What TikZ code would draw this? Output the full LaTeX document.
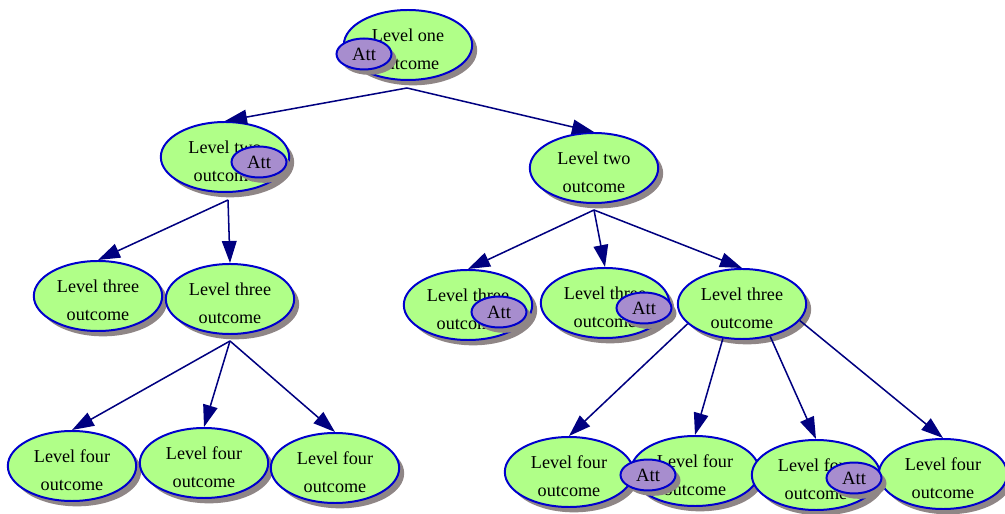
\documentclass[tikz,border=0pt]{standalone}
\usepackage{fontspec}
\setmainfont{Liberation Serif}
\usetikzlibrary{shapes.geometric,arrows.meta,shadows}
\definecolor{leaf}{RGB}{176,255,136}
\definecolor{attfill}{RGB}{167,141,206}
\definecolor{rim}{RGB}{0,0,205}
\definecolor{wire}{RGB}{0,0,128}
\definecolor{shade}{RGB}{143,134,134}
% two-line outcome label, with a tall strut that sets the lines a little low
\newcommand\twolines[2]{\rule{0pt}{18pt}#1\\#2}
\tikzset{
  outcome/.style={ellipse, draw=rim, fill=leaf, line width=1.7pt,
    minimum width=3.85cm, minimum height=2.1cm, inner sep=0pt, align=center,
    font=\fontsize{15.5}{23.5}\selectfont,
    drop shadow={shadow xshift=0.15cm, shadow yshift=-0.16cm, fill=shade, opacity=1}},
  att/.style={ellipse, draw=rim, fill=attfill, line width=1.7pt,
    minimum width=1.65cm, minimum height=0.93cm, inner sep=0pt,
    font=\fontsize{16}{18}\selectfont,
    drop shadow={shadow xshift=0.15cm, shadow yshift=-0.16cm, fill=shade, opacity=1}},
  link/.style={draw=wire, line width=1.3pt,
    -{Triangle[length=0.66cm, width=0.44cm, fill=wire]}},
}
\begin{document}
\begin{tikzpicture}[x=0.03cm, y=-0.03cm]
\useasboundingbox (0,0) rectangle (1005,514);

% outcome tree
\node[outcome] (one)  at (408,45)  {\twolines{Level one}{outcome}};
\node[outcome] (twoA) at (225,157) {\twolines{Level two}{outcome}};
\node[outcome] (twoB) at (594,168) {\twolines{Level two}{outcome}};
\node[outcome] (thrA) at (98,296)  {\twolines{Level three}{outcome}};
\node[outcome] (thrB) at (230,299) {\twolines{Level three}{outcome}};
\node[outcome] (thrC) at (468,305) {\twolines{Level three}{outcome}};
\node[outcome] (thrD) at (605,303) {\twolines{Level three}{outcome}};
\node[outcome] (thrE) at (742,304) {\twolines{Level three}{outcome}};
\node[outcome] (fouA) at (72,466)  {\twolines{Level four}{outcome}};
\node[outcome] (fouB) at (204,463) {\twolines{Level four}{outcome}};
\node[outcome] (fouC) at (335,468) {\twolines{Level four}{outcome}};
\node[outcome] (fouD) at (569,472) {\twolines{Level four}{outcome}};
\node[outcome] (fouE) at (695,471) {\twolines{Level four}{outcome}};
\node[outcome] (fouF) at (816,475) {\twolines{Level four}{outcome}};
\node[outcome] (fouG) at (943,474) {\twolines{Level four}{outcome}};

% attachment badges
\node[att] (attOne)  at (364,54)  {Att};
\node[att] (attTwoA) at (259,162) {Att};
\node[att] (attThrC) at (499,312) {Att};
\node[att] (attThrD) at (644,308) {Att};
\node[att] (attFouE) at (648,475) {Att};
\node[att] (attFouF) at (854,478) {Att};

% fork points below the parents
\coordinate (oneOut)  at (407,88);
\coordinate (twoAOut) at (228,200);
\coordinate (twoBOut) at (594,210);
\coordinate (thrBOut) at (230,341);

% connectors
\draw[link] (oneOut) -- (twoA.north);
\draw[link] (oneOut) -- (twoB.north);
\draw[link] (twoAOut) -- (thrA.north);
\draw[link] (twoAOut) -- (thrB.north);
\draw[link] (thrBOut) -- (fouA.north);
\draw[link] (thrBOut) -- (fouB.north);
\draw[link] (thrBOut) -- (fouC.north);
\draw[link] (twoBOut) -- (thrC.north);
\draw[link] (twoBOut) -- (thrD.north);
\draw[link] (twoBOut) -- (thrE.north);
\draw[link] (thrE.200) -- (fouD.north);
\draw[link] (thrE.241) -- (fouE.north);
\draw[link] (thrE.311) -- (fouF.north);
\draw[link] (thrE.344) -- (fouG.north);
\end{tikzpicture}
\end{document}
